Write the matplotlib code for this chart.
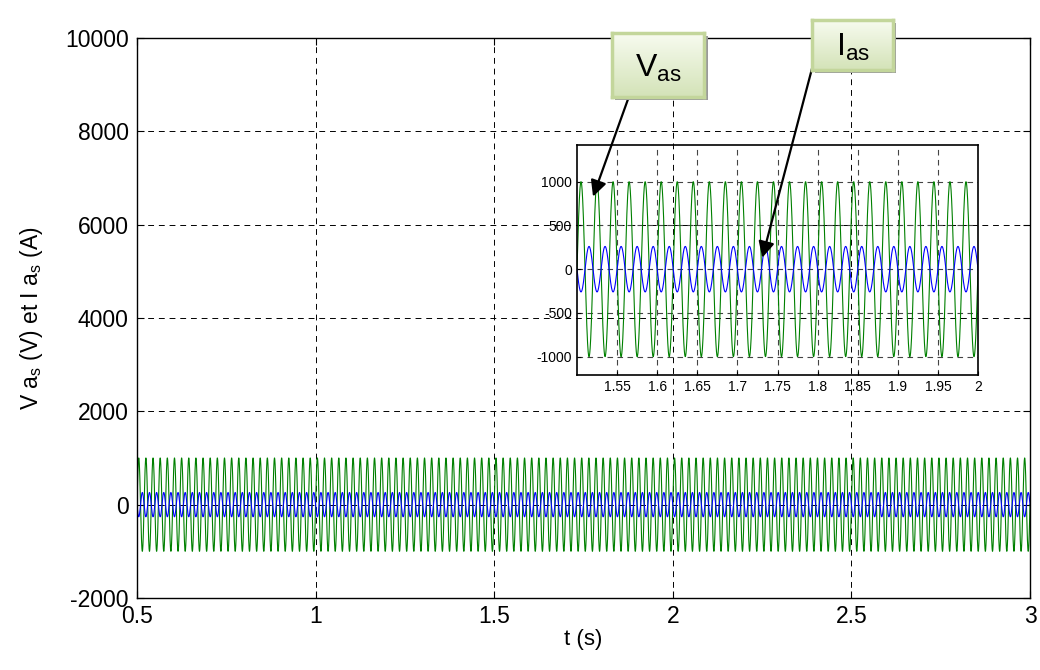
import numpy as np
import matplotlib.pyplot as plt
from matplotlib.patches import Rectangle

# signal parameters (50 Hz, peaks ~1000 V and ~260 A)
freq = 50.0
v_peak = 1000.0
i_peak = 260.0
t_start, t_end, t_step = 0.5, 3.0, 1e-4

main_xticks = [0.5, 1, 1.5, 2, 2.5, 3]
main_yticks = [-2000, 0, 2000, 4000, 6000, 8000, 10000]
inset_xticks = [1.55, 1.6, 1.65, 1.7, 1.75, 1.8, 1.85, 1.9, 1.95, 2]
inset_xlabels = ['1.55', '1.6', '1.65', '1.7', '1.75', '1.8', '1.85', '1.9', '1.95', '2']
inset_yticks = [-1000, -500, 0, 500, 1000]

t = np.arange(t_start, t_end + t_step, t_step)
v_as = v_peak * np.sin(2 * np.pi * freq * t)
i_as = -i_peak * np.sin(2 * np.pi * freq * t)

plt.rcParams['font.family'] = ['Liberation Sans', 'DejaVu Sans']
plt.rcParams['axes.unicode_minus'] = False

fig = plt.figure(figsize=(10.4, 6.7), dpi=100)
ax = fig.add_axes([0.1317, 0.1075, 0.8587, 0.8358])
ax.plot(t, v_as, color='#008000', lw=0.8)
ax.plot(t, i_as, color='#0000ff', lw=0.8)
ax.set_xlim(0.5, 3)
ax.set_ylim(-2000, 10000)
ax.set_xticks(main_xticks)
ax.set_xticklabels(['0.5', '1', '1.5', '2', '2.5', '3'])
ax.set_yticks(main_yticks)
ax.tick_params(direction='in', labelsize=16.5, length=5, top=True, right=True)
ax.tick_params(axis='x', pad=5)
ax.tick_params(axis='y', pad=6)
ax.grid(True, color='black', ls=(0, (6, 5)), lw=0.7)
ax.set_axisbelow(True)
for s in ax.spines.values():
    s.set_linewidth(1.0)
ax.set_xlabel('t (s)', fontsize=16, labelpad=1)
ax.set_ylabel('V a$_\\mathregular{s}$ (V) et I a$_\\mathregular{s}$ (A)', fontsize=16.5, labelpad=14)

# zoomed inset
axin = fig.add_axes([0.5548, 0.4403, 0.3856, 0.3433])
axin.patch.set_alpha(0)
axin.plot(t, v_as, color='#008000', lw=0.8)
axin.plot(t, i_as, color='#0000ff', lw=0.8)
axin.set_xlim(1.5, 2.0)
axin.set_ylim(-1210, 1420)
axin.set_xticks(inset_xticks)
axin.set_xticklabels(inset_xlabels)
axin.set_yticks(inset_yticks)
axin.tick_params(direction='in', length=3, labelsize=10)
for lab in axin.get_xticklabels() + axin.get_yticklabels():
    lab.set_family(['Liberation Sans Narrow', 'Liberation Sans'])
axin.grid(True, color='#444444', ls=(0, (5, 4)), lw=0.8)
for s in axin.spines.values():
    s.set_linewidth(1.2)


def label_box(x0, y0, w, h, text):
    # shadow
    fig.patches.append(Rectangle((x0 + 0.003, y0 - 0.005), w, h, transform=fig.transFigure,
                                 facecolor='#9a9a9a', edgecolor='none', zorder=5))
    bax = fig.add_axes([x0, y0, w, h], zorder=6)
    grad = np.linspace(0, 1, 100).reshape(-1, 1)
    top = np.array([0.97, 0.985, 0.94])
    bot = np.array([0.83, 0.89, 0.72])
    img = top + (bot - top) * grad[..., None]
    bax.imshow(img, aspect='auto', extent=[0, 1, 0, 1], origin='upper')
    bax.set_xticks([])
    bax.set_yticks([])
    for s in bax.spines.values():
        s.set_color('#c3d69b')
        s.set_linewidth(2.5)
    bax.text(0.5, 0.45, text, ha='center', va='center', fontsize=23,
             transform=bax.transAxes)
    return bax


label_box(0.588, 0.8552, 0.0894, 0.0955, r'$\mathregular{V_{as}}$')
label_box(0.781, 0.8955, 0.0779, 0.0746, r'$\mathregular{I_{as}}$')

arrow = dict(arrowstyle='-|>', mutation_scale=24, color='black', lw=1.6, shrinkA=0, shrinkB=0)
axin.annotate('', xy=(1.52, 830), xycoords='data',
              xytext=(0.6115, 0.885), textcoords='figure fraction',
              arrowprops=arrow, zorder=10, annotation_clip=False)
axin.annotate('', xy=(1.731, 131), xycoords='data',
              xytext=(0.781, 0.899), textcoords='figure fraction',
              arrowprops=arrow, zorder=10, annotation_clip=False)

fig.savefig('out.png', dpi=100)
